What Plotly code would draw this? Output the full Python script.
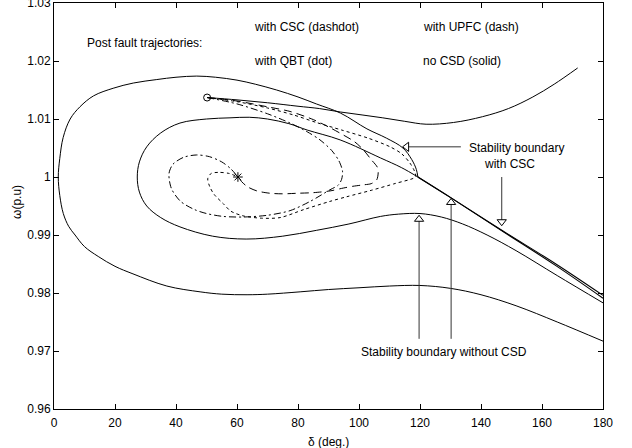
import plotly.graph_objects as go

# ---------------- data ----------------
# stability boundary with CSC (outer solid curve)
csc_bnd_delta = [180, 165, 151.5, 140, 130, 120, 110, 100, 90, 80.7, 70, 63.3, 55, 47.9, 37, 25.9,
                 20, 14.5, 10, 6.9, 4.8, 3.05, 1.9, 1.4, 1.9, 3.0, 5.3, 8.5, 13, 19.4, 26, 33.7,
                 40, 46.8, 53, 60, 66, 73, 80, 86, 94, 102.6, 109, 114.4, 117.3, 118.8, 119.3]
csc_bnd_omega = [0.9717, 0.9750, 0.9778, 0.9797, 0.9808, 0.9813, 0.9812, 0.9809, 0.9806, 0.9802,
                 0.9798, 0.9797, 0.9798, 0.9802, 0.9812, 0.9833, 0.9846, 0.9863, 0.9880, 0.9900,
                 0.9915, 0.9937, 0.9968, 1.0000, 1.0032, 1.0068, 1.0100, 1.0121, 1.0140, 1.0153,
                 1.0162, 1.0168, 1.0172, 1.0174, 1.0172, 1.0167, 1.0160, 1.0150, 1.0138, 1.0126,
                 1.0110, 1.0083, 1.0067, 1.0050, 1.0030, 1.0013, 1.0000]

# stability boundary without CSD (middle solid curve)
nocsd_bnd_delta = [180, 165, 151.5, 142, 134, 127, 120, 113, 107, 96.7, 86, 75, 63, 52, 41.3, 35,
                   30.4, 28, 27.3, 28, 30.4, 35, 41.3, 50, 57.7, 64, 70, 77, 83, 93.8, 107, 114,
                   119.3]
nocsd_bnd_omega = [0.9783, 0.9830, 0.9873, 0.9900, 0.9919, 0.9931, 0.9937, 0.9936, 0.9932, 0.9919,
                   0.9908, 0.9898, 0.9893, 0.9898, 0.9914, 0.9930, 0.9950, 0.9974, 1.0000, 1.0026,
                   1.0052, 1.0076, 1.0093, 1.0100, 1.0102, 1.0103, 1.0100, 1.0092, 1.0081, 1.0064,
                   1.0033, 1.0016, 1.0000]

# second branches from the unstable point (overlapping, look thick)
branch_delta = [119.3, 130.2, 147.2, 164.3, 180]
branch_csc_omega = [1.0000, 0.9964, 0.9907, 0.9851, 0.9796]
branch_nocsd_omega = [1.0000, 0.9964, 0.9906, 0.9848, 0.9791]

# post-fault trajectories
nocsd_traj_delta = [50.2, 60, 70, 80, 87, 94, 101, 107.8, 115, 122, 131, 140.5, 149, 157, 164, 171.7]
nocsd_traj_omega = [1.0137, 1.0133, 1.0128, 1.0122, 1.0118, 1.0112, 1.0107, 1.0102, 1.0096, 1.0091,
                    1.0094, 1.0104, 1.0118, 1.0138, 1.0160, 1.0188]

csc_traj_delta = [50.2, 60, 70, 77.4, 83, 87.2, 91, 93.4, 94.6, 94.3, 93.2, 90.5, 84, 77.4, 70, 62,
                  55.5, 50, 46, 41.5, 38.5, 37.7, 39, 42.5, 46.8, 51, 55, 58, 60.3]
csc_traj_omega = [1.0137, 1.0126, 1.0109, 1.0093, 1.0078, 1.0064, 1.0046, 1.0028, 1.0010, 0.9996,
                  0.9986, 0.9978, 0.9958, 0.9942, 0.9934, 0.9931, 0.9932, 0.9937, 0.9944, 0.9958,
                  0.9980, 1.0006, 1.0022, 1.0034, 1.0038, 1.0035, 1.0026, 1.0014, 1.0000]

upfc_traj_delta = [50.2, 60, 70, 77.4, 85, 90.5, 95, 98.5, 101.4, 104, 106, 106.3, 105.8, 104, 101.5,
                   98, 94.9, 90.5, 85, 80, 75, 70.8, 66.5, 63.5, 61.5, 60.3]
upfc_traj_omega = [1.0137, 1.0131, 1.0121, 1.0113, 1.0099, 1.0085, 1.0072, 1.0061, 1.0047, 1.0030,
                   1.0017, 1.0008, 0.9995, 0.99885, 0.99865, 0.9984, 0.9981, 0.9976, 0.9973, 0.9972,
                   0.9971, 0.9972, 0.9976, 0.9983, 0.9992, 1.0000]

qbt_traj_delta = [50.2, 59.9, 70, 78.5, 86, 94.3, 103, 110.2, 114, 116.7, 118.2, 118.6, 117.8, 112,
                  104, 96, 90.5, 82, 74.1, 68, 62, 58, 55.5, 52.5, 51.1, 50.4, 51.5, 54, 57.5, 60.3]
qbt_traj_omega = [1.0137, 1.0130, 1.0119, 1.0107, 1.0094, 1.0081, 1.0067, 1.0052, 1.0040, 1.0024,
                  1.0010, 1.0001, 0.99977, 0.9989, 0.9977, 0.9966, 0.9958, 0.9944, 0.9930, 0.9929,
                  0.9933, 0.9941, 0.9954, 0.9970, 0.9983, 0.9997, 1.0006, 1.0008, 1.0006, 1.0000]

start_point = ([50.2], [1.0137])   # fault clearing point (circle)
sep_point = ([60.3], [1.0000])     # stable equilibrium (star)

x_ticks = [0, 20, 40, 60, 80, 100, 120, 140, 160, 180]
y_ticks = [0.96, 0.97, 0.98, 0.99, 1.00, 1.01, 1.02, 1.03]
y_tick_text = ["0.96", "0.97", "0.98", "0.99", "1", "1.01", "1.02", "1.03"]

# ---------------- figure ----------------
FONT = "Liberation Sans, Arial, Helvetica, sans-serif"
fig = go.Figure()


def line(xs, ys, dash="solid", width=1.0, smoothing=1.0):
    fig.add_trace(go.Scatter(x=xs, y=ys, mode="lines",
                             line=dict(color="black", width=width, dash=dash,
                                       shape="spline", smoothing=smoothing),
                             hoverinfo="skip"))


line(csc_bnd_delta, csc_bnd_omega)
line(nocsd_bnd_delta, nocsd_bnd_omega)
line(branch_delta, branch_csc_omega, width=1.1)
line(branch_delta, branch_nocsd_omega, width=1.1)
line(nocsd_traj_delta, nocsd_traj_omega)
line(csc_traj_delta, csc_traj_omega, dash="7px,3px,2px,3px", smoothing=0.8)
line(upfc_traj_delta, upfc_traj_omega, dash="8px,5px", smoothing=0.8)
line(qbt_traj_delta, qbt_traj_omega, dash="3px,3px", smoothing=0.8)

fig.add_trace(go.Scatter(x=start_point[0], y=start_point[1], mode="markers",
                         marker=dict(symbol="circle-open", size=7, color="black",
                                     line=dict(width=1, color="black"))))
fig.add_trace(go.Scatter(x=sep_point[0], y=sep_point[1], mode="markers",
                         marker=dict(symbol="asterisk-open", size=8, color="black",
                                     line=dict(width=1, color="black"))))

# ---- arrows (shaft as line, open triangle head as marker) ----
PX_X = 180 / 549.0      # degrees per pixel
PX_Y = 0.07 / 406.0     # p.u. per pixel
arrow_col = "#333333"


def arrow(x0, y0, x1, y1, symbol, hx, hy):
    fig.add_trace(go.Scatter(x=[x0, x1], y=[y0, y1], mode="lines",
                             line=dict(color=arrow_col, width=1), hoverinfo="skip"))
    fig.add_trace(go.Scatter(x=[hx], y=[hy], mode="markers",
                             marker=dict(symbol=symbol, size=8, color="black",
                                         line=dict(width=1, color="black")),
                             hoverinfo="skip"))


# "Stability boundary with CSC" -> left
arrow(133.4, 1.0052, 114.3 + 6 * PX_X, 1.0052, "triangle-left-open", 114.3 + 4 * PX_X, 1.0052)
# "with CSC" -> down
arrow(146.8, 1.0000, 146.8, 0.9916 + 6 * PX_Y, "triangle-down-open", 146.8, 0.9916 + 4 * PX_Y)
# "Stability boundary without CSD" -> up (two)
arrow(119.7, 0.9721, 119.7, 0.9934 - 6 * PX_Y, "triangle-up-open", 119.7, 0.9934 - 4 * PX_Y)
arrow(130.2, 0.9721, 130.2, 0.9963 - 6 * PX_Y, "triangle-up-open", 130.2, 0.9963 - 4 * PX_Y)

ann_font = dict(family=FONT, size=12, color="black")
texts = [
    ("Post fault trajectories:", 10.2, 1.0231),
    ("with CSC (dashdot)", 64.9, 1.0259),
    ("with QBT (dot)", 64.9, 1.0200),
    ("with UPFC (dash)", 120.3, 1.0259),
    ("no CSD (solid)", 120.3, 1.0200),
    ("Stability boundary", 135.4, 1.0050),
    ("with CSC", 140.3, 1.0022),
    ("Stability boundary without CSD", 100.0, 0.9698),
]
annotations = [dict(text=t, x=x, y=y, xref="x", yref="y", xanchor="left", yanchor="middle",
                    showarrow=False, font=ann_font) for t, x, y in texts]
annotations.append(dict(text="ω(p.u)", x=0, y=0.51, xref="paper", yref="paper", xanchor="center",
                        yanchor="middle", xshift=-37, textangle=-90, showarrow=False,
                        font=dict(family=FONT, size=12, color="black")))
annotations.append(dict(text="δ (deg.)", x=0.5, y=0, xref="paper", yref="paper", xanchor="center",
                        yanchor="middle", yshift=-33, showarrow=False,
                        font=dict(family=FONT, size=12, color="black")))

axis_common = dict(showgrid=False, zeroline=False, showline=True, linecolor="black", linewidth=1,
                   mirror="ticks", ticks="inside", ticklen=5, tickcolor="black", tickwidth=1,
                   tickfont=dict(family=FONT, size=12, color="black"), automargin=False,
                   ticklabeloverflow="allow")

fig.update_layout(
    width=632, height=448,
    margin=dict(l=54, r=29, t=3, b=39),
    paper_bgcolor="white", plot_bgcolor="white",
    showlegend=False,
    xaxis=dict(range=[0, 180], tickvals=x_ticks, ticklabelstandoff=3, **axis_common),
    yaxis=dict(range=[0.96, 1.03], tickvals=y_ticks, ticktext=y_tick_text, **axis_common),
    annotations=annotations,
)

fig.write_html("out.html")
